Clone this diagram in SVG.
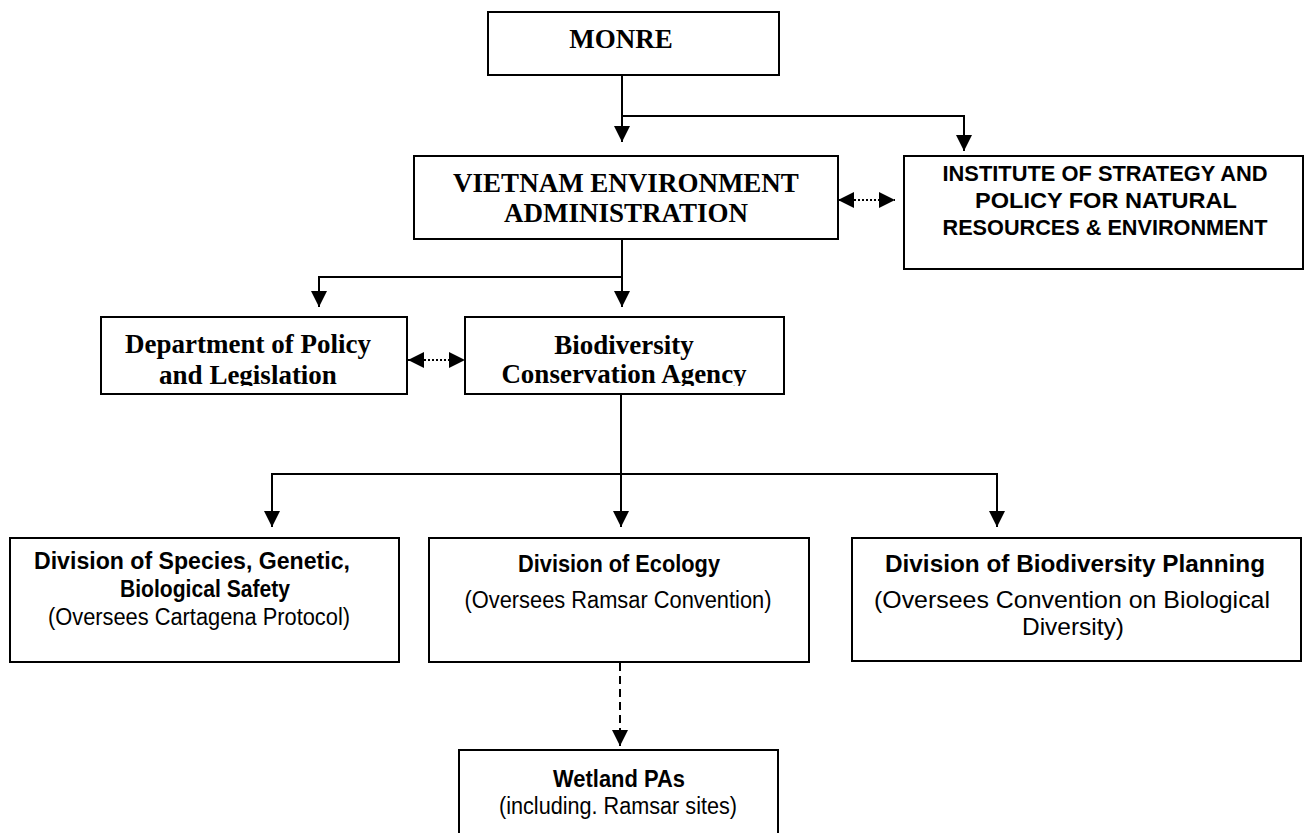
<svg xmlns="http://www.w3.org/2000/svg" width="1306" height="833" viewBox="0 0 1306 833">
<style>
.box{fill:#fff;stroke:#000;stroke-width:2}
.serif{font-family:"Liberation Serif","Times New Roman",serif;font-weight:bold;font-size:27px;text-anchor:middle;fill:#000}
.sansb{font-family:"Liberation Sans",Arial,sans-serif;font-weight:bold;font-size:23.5px;text-anchor:middle;fill:#000}
.sans{font-family:"Liberation Sans",Arial,sans-serif;font-size:23.5px;text-anchor:middle;fill:#000}
.isp{font-size:21.5px}
.big{font-size:24px}
.line{fill:none;stroke:#000;stroke-width:2}
.dot{fill:none;stroke:#000;stroke-width:2;stroke-dasharray:2 2}
.dash{fill:none;stroke:#000;stroke-width:2;stroke-dasharray:8 5}
</style>
<defs>
<marker id="ah" markerWidth="16" markerHeight="16" viewBox="0 0 16 16" refX="16" refY="8" orient="auto" markerUnits="userSpaceOnUse">
<path d="M0,0 L16,8 L0,16 Z" fill="#000"/>
</marker>
<marker id="ahs" markerWidth="16" markerHeight="16" viewBox="0 0 16 16" refX="0" refY="8" orient="auto" markerUnits="userSpaceOnUse">
<path d="M16,0 L0,8 L16,16 Z" fill="#000"/>
</marker>
<clipPath id="clipDept"><rect x="101" y="318" width="306" height="68"/></clipPath>
<clipPath id="clipBio"><rect x="465" y="318" width="319" height="68"/></clipPath>
</defs>

<g id="connectors">
<path class="line" d="M622,75 V142" marker-end="url(#ah)"/>
<path class="line" d="M622,116 H964 V151" marker-end="url(#ah)"/>
<path class="dot" d="M838,200 H895" marker-start="url(#ahs)" marker-end="url(#ah)"/>
<path class="line" d="M622,239 V307" marker-end="url(#ah)"/>
<path class="line" d="M622,277 H319 V307" marker-end="url(#ah)"/>
<path class="dot" d="M408,360 H465" marker-start="url(#ahs)" marker-end="url(#ah)"/>
<path class="line" d="M621,394 V527" marker-end="url(#ah)"/>
<path class="line" d="M272,474 H997"/>
<path class="line" d="M272,473 V527" marker-end="url(#ah)"/>
<path class="line" d="M997,473 V527" marker-end="url(#ah)"/>
<path class="dash" d="M620,663 V746" marker-end="url(#ah)"/>
</g>

<g id="monre">
<rect class="box" x="488" y="12" width="291" height="63"/>
<text class="serif" x="621" y="48">MONRE</text>
</g>

<g id="vea">
<rect class="box" x="414" y="156" width="424" height="83"/>
<text class="serif" x="626" y="192">VIETNAM ENVIRONMENT</text>
<text class="serif" x="626" y="222">ADMINISTRATION</text>
</g>

<g id="ispnre">
<rect class="box" x="904" y="156" width="399" height="113"/>
<text class="sansb isp" x="1105" y="181" textLength="325" lengthAdjust="spacingAndGlyphs">INSTITUTE OF STRATEGY AND</text>
<text class="sansb isp" x="1106" y="208" textLength="262" lengthAdjust="spacingAndGlyphs">POLICY FOR NATURAL</text>
<text class="sansb isp" x="1105" y="235" textLength="325" lengthAdjust="spacingAndGlyphs">RESOURCES &amp; ENVIRONMENT</text>
</g>

<g id="dept">
<rect class="box" x="101" y="317" width="306" height="77"/>
<g clip-path="url(#clipDept)">
<text class="serif" x="248" y="353">Department of Policy</text>
<text class="serif" x="248" y="384">and Legislation</text>
</g>
</g>

<g id="bca">
<rect class="box" x="465" y="317" width="319" height="77"/>
<g clip-path="url(#clipBio)">
<text class="serif" x="624" y="354">Biodiversity</text>
<text class="serif" x="624" y="383">Conservation Agency</text>
</g>
</g>

<g id="species">
<rect class="box" x="10" y="538" width="389" height="124"/>
<text class="sansb" x="192" y="569" textLength="316" lengthAdjust="spacingAndGlyphs">Division of Species, Genetic,</text>
<text class="sansb" x="205" y="597" textLength="170" lengthAdjust="spacingAndGlyphs">Biological Safety</text>
<text class="sans" x="199" y="625" textLength="302" lengthAdjust="spacingAndGlyphs">(Oversees Cartagena Protocol)</text>
</g>

<g id="ecology">
<rect class="box" x="429" y="538" width="380" height="124"/>
<text class="sansb" x="619" y="572" textLength="202" lengthAdjust="spacingAndGlyphs">Division of Ecology</text>
<text class="sans" x="618" y="608" textLength="307" lengthAdjust="spacingAndGlyphs">(Oversees Ramsar Convention)</text>
</g>

<g id="planning">
<rect class="box" x="852" y="538" width="449" height="123"/>
<text class="sansb big" x="1075" y="572" textLength="380" lengthAdjust="spacingAndGlyphs">Division of Biodiversity Planning</text>
<text class="sans big" x="1072" y="608" textLength="396" lengthAdjust="spacingAndGlyphs">(Oversees Convention on Biological</text>
<text class="sans big" x="1073" y="635" textLength="102" lengthAdjust="spacingAndGlyphs">Diversity)</text>
</g>

<g id="wetland">
<rect class="box" x="459" y="750" width="319" height="100"/>
<text class="sansb" x="619" y="787" textLength="132" lengthAdjust="spacingAndGlyphs">Wetland PAs</text>
<text class="sans" x="618" y="814" textLength="238" lengthAdjust="spacingAndGlyphs">(including. Ramsar sites)</text>
</g>
</svg>
